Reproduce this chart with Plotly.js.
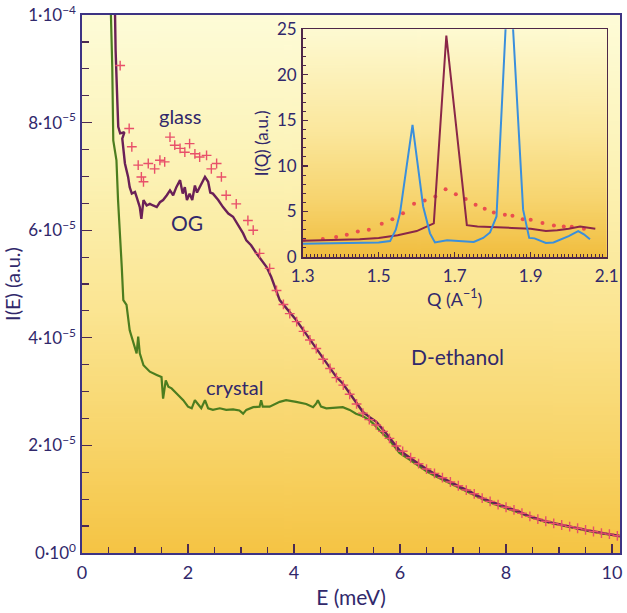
<!DOCTYPE html>
<html>
<head>
<meta charset="utf-8">
<script src="https://cdn.plot.ly/plotly-3.0.1.min.js"></script>
<style>html,body{margin:0;padding:0;background:#fff;}#chart{width:627px;height:613px;}</style>
</head>
<body>
<div id="chart"></div>
<script>
// ---------- Main panel data (E in meV, I(E) in units of 1e-5 a.u.) ----------
const crystalE = [
  0.53,0.546,0.571,0.59,0.65,0.68,0.72,0.75,0.78,0.84,
  0.90,0.97,1.03,1.06,1.09,1.16,1.28,1.41,1.50,1.53,
  1.58,1.63,1.69,1.78,1.85,1.91,2.00,2.07,2.13,2.19,
  2.25,2.32,2.38,2.47,2.60,2.72,2.85,2.97,3.04,3.10,
  3.23,3.35,3.38,3.41,3.54,3.73,3.85,4.04,4.23,4.36,
  4.42,4.45,4.51,4.61,4.80,4.92,5.05,5.17,5.30,5.42,
  5.49,5.61,5.80,5.99,6.20,6.37,6.50,6.68,6.85,6.99,
  7.15,7.31,7.45,7.62,7.80,7.93,8.10,8.25,8.40,8.56,
  8.70,8.88,9.05,9.19,9.35,9.50,9.65,9.82,10.0,10.15];
const crystalI = [
  10.6,9.99,9.03,7.67,7.30,6.56,5.94,5.32,4.70,4.61,
  4.14,3.89,3.71,4.02,3.71,3.49,3.37,3.31,3.27,2.87,
  3.21,3.09,3.06,2.97,2.90,2.84,2.72,2.69,2.84,2.77,
  2.69,2.84,2.69,2.66,2.69,2.66,2.67,2.65,2.59,2.66,
  2.71,2.72,2.84,2.72,2.72,2.81,2.84,2.81,2.77,2.71,
  2.78,2.84,2.72,2.69,2.71,2.71,2.66,2.59,2.54,2.47,
  2.41,2.28,2.10,1.86,1.72,1.60,1.52,1.42,1.34,1.26,
  1.19,1.12,1.05,0.97,0.90,0.86,0.80,0.75,0.69,0.64,
  0.59,0.55,0.51,0.48,0.45,0.42,0.39,0.36,0.34,0.32];

const ogE = [
  0.615,0.634,0.666,0.684,0.72,0.80,0.76,0.78,0.81,0.87,
  0.90,0.94,1.00,1.03,1.09,1.12,1.16,1.22,1.28,1.34,
  1.41,1.47,1.53,1.60,1.66,1.72,1.78,1.85,1.90,1.94,
  1.98,2.03,2.08,2.13,2.17,2.22,2.27,2.32,2.38,2.42,
  2.47,2.57,2.66,2.76,2.85,2.91,2.98,3.04,3.10,3.19,
  3.29,3.38,3.48,3.57,3.67,3.73,3.89,4.04,4.20,4.36,
  4.51,4.67,4.80,4.92,5.05,5.17,5.30,5.42,5.55,5.74,
  5.99,6.20,6.37,6.50,6.68,6.85,6.99,7.15,7.31,7.45,
  7.62,7.80,7.93,8.10,8.25,8.40,8.56,8.70,8.88,9.05,
  9.19,9.35,9.50,9.65,9.82,10.0,10.15];
const ogI = [
  10.5,9.34,8.41,7.92,7.80,7.82,7.70,7.45,7.24,6.99,
  6.80,6.68,6.71,6.62,6.43,6.21,6.56,6.46,6.49,6.46,
  6.43,6.52,6.56,6.65,6.74,6.65,6.80,6.93,6.68,6.80,
  6.56,6.68,6.56,6.83,6.70,6.80,6.90,6.99,6.90,6.70,
  6.68,6.56,6.43,6.31,6.25,6.15,6.06,5.94,5.81,5.72,
  5.57,5.44,5.32,5.13,4.88,4.70,4.51,4.33,4.11,3.89,
  3.68,3.46,3.27,3.15,2.97,2.78,2.62,2.53,2.44,2.22,
  1.91,1.76,1.64,1.56,1.46,1.37,1.30,1.22,1.15,1.07,
  0.99,0.92,0.88,0.82,0.77,0.70,0.65,0.60,0.56,0.52,
  0.49,0.46,0.43,0.40,0.37,0.34,0.31];

const glassE = [
  0.72,0.89,0.94,1.06,1.12,1.16,1.25,1.37,1.47,1.56,
  1.66,1.75,1.85,1.94,2.03,2.13,2.22,2.35,2.44,2.54,
  2.63,2.72,2.91,3.13,3.23,3.35,3.54,3.67,3.80,3.92,
  4.05,4.18,4.30,4.42,4.55,4.68,4.80,4.93,5.05,5.18,
  5.30,5.42,5.55,5.68,5.80,5.93,6.05,6.20,6.35,6.50,
  6.65,6.80,6.95,7.10,7.25,7.40,7.55,7.70,7.85,8.00,
  8.15,8.30,8.45,8.60,8.75,8.90,9.05,9.20,9.35,9.50,
  9.65,9.80,9.95,10.10];
const glassI = [
  9.06,7.89,7.55,7.21,6.99,6.90,7.24,7.14,7.30,7.27,
  7.73,7.58,7.52,7.45,7.61,7.42,7.36,7.39,7.14,7.24,
  6.99,6.65,6.49,6.18,6.00,5.57,5.29,4.88,4.62,4.45,
  4.30,4.12,3.96,3.80,3.60,3.43,3.26,3.12,2.95,2.77,
  2.60,2.48,2.38,2.26,2.13,1.99,1.89,1.77,1.66,1.56,
  1.48,1.40,1.32,1.25,1.17,1.10,1.02,0.96,0.90,0.85,
  0.80,0.74,0.68,0.63,0.59,0.55,0.52,0.49,0.46,0.43,
  0.40,0.37,0.35,0.32];

const yTickVals = [0, 2, 4, 6, 8, 10];
const yTickText = ['0·10<sup>0</sup>','2·10<sup>−5</sup>','4·10<sup>−5</sup>','6·10<sup>−5</sup>','8·10<sup>−5</sup>','1·10<sup>−4</sup>'];

// ---------- Inset data (Q in 1/A, I(Q) a.u.) ----------
const inGlassQ = [1.304,1.353,1.388,1.416,1.445,1.474,1.508,1.536,1.564,1.593,
                  1.621,1.649,1.676,1.703,1.729,1.755,1.779,1.803,1.832,1.852,
                  1.879,1.90,1.931,1.961,1.987,2.008,2.04];
const inGlassI = [1.9,1.97,2.19,2.45,2.81,2.99,3.65,4.16,4.82,5.85,
                  6.2,6.65,7.45,6.9,6.36,5.73,5.3,4.89,4.64,4.53,
                  4.16,4.09,3.73,3.47,3.36,3.32,3.1];
const inOgQ = [1.30,1.35,1.40,1.45,1.50,1.55,1.60,1.645,1.678,1.732,
               1.76,1.80,1.85,1.90,1.94,1.97,2.00,2.03,2.05,2.07];
const inOgI = [1.8,1.85,1.9,1.95,2.1,2.4,2.85,3.7,24.3,3.5,
               3.35,3.25,3.2,3.1,2.85,2.95,3.1,3.35,3.2,3.1];
const inCrystalQ = [1.30,1.40,1.50,1.53,1.545,1.556,1.57,1.589,1.60,1.617,
                    1.635,1.648,1.68,1.72,1.75,1.775,1.793,1.81,1.843,1.88,
                    1.896,1.91,1.94,1.96,1.98,2.00,2.025,2.04,2.056];
const inCrystalI = [1.45,1.5,1.6,1.75,3.0,4.8,9.0,14.5,11.0,5.55,
                    2.6,1.6,1.85,1.75,1.65,2.1,2.7,4.46,33,5.2,
                    2.1,2.05,1.55,1.6,1.95,2.3,2.85,2.5,1.95];
const inXTicks = [1.3, 1.5, 1.7, 1.9, 2.1];
const inYTicks = [0, 5, 10, 15, 20, 25];

// ---------- Styles ----------
const FONT = 'Lato, "Open Sans", sans-serif';
const TXT = '#31286b';
const FRAME = '#3d3383';
const TICK = '#4b2a52';
const INFRAME = '#4e2748';
const INSET_X = [0.4102, 0.9753];
const INSET_Y = [0.5496, 0.9734];

function gradient(stops) {
  const c = document.createElement('canvas');
  c.width = 4; c.height = 256;
  const g = c.getContext('2d');
  const lg = g.createLinearGradient(0, 0, 0, 256);
  stops.forEach(s => lg.addColorStop(s[0], s[1]));
  g.fillStyle = lg; g.fillRect(0, 0, 4, 256);
  return c.toDataURL();
}
const mainBg = gradient([[0,'#fefcd8'],[0.3,'#fcf2b4'],[0.55,'#fbe592'],[0.8,'#f8d468'],[1,'#f5c444']]);
const insetBg = gradient([[0,'#fefad2'],[0.45,'#fbe79c'],[0.75,'#f7d46e'],[1,'#f1bd3e']]);

const traces = [
  {x: crystalE, y: crystalI, mode: 'lines', line: {color: '#4c7d1f', width: 2.2}, xaxis: 'x', yaxis: 'y', hoverinfo: 'skip'},
  {x: ogE, y: ogI, mode: 'lines', line: {color: '#6a2057', width: 2.4}, xaxis: 'x', yaxis: 'y', hoverinfo: 'skip'},
  {x: glassE, y: glassI, mode: 'markers', marker: {symbol: 'cross-thin', size: 7, line: {color: '#e8506a', width: 1.4}}, xaxis: 'x', yaxis: 'y', hoverinfo: 'skip'},
  {x: inGlassQ, y: inGlassI, mode: 'markers', marker: {symbol: 'circle', size: 4, color: '#ea4e4e'}, xaxis: 'x2', yaxis: 'y2', hoverinfo: 'skip'},
  {x: inOgQ, y: inOgI, mode: 'lines', line: {color: '#8a2748', width: 2}, xaxis: 'x2', yaxis: 'y2', hoverinfo: 'skip'},
  {x: inCrystalQ, y: inCrystalI, mode: 'lines', line: {color: '#3a8fdc', width: 2}, xaxis: 'x2', yaxis: 'y2', hoverinfo: 'skip'}
];

const layout = {
  width: 627, height: 613,
  margin: {l: 82, r: 7, t: 15, b: 60, pad: 0},
  paper_bgcolor: '#ffffff',
  plot_bgcolor: 'rgba(0,0,0,0)',
  showlegend: false,
  font: {family: FONT, color: TXT},
  images: [
    {source: mainBg, xref: 'paper', yref: 'paper', x: 0, y: 1, sizex: 1, sizey: 1,
     xanchor: 'left', yanchor: 'top', sizing: 'stretch', layer: 'below'},
    {source: insetBg, xref: 'paper', yref: 'paper', x: INSET_X[0], y: INSET_Y[1],
     sizex: INSET_X[1] - INSET_X[0], sizey: INSET_Y[1] - INSET_Y[0],
     xanchor: 'left', yanchor: 'top', sizing: 'stretch', layer: 'below'}
  ],
  xaxis: {
    domain: [0, 1], range: [0, 10.15], anchor: 'y',
    tickmode: 'linear', tick0: 0, dtick: 2,
    ticks: 'inside', ticklen: 9, tickwidth: 1.3, tickcolor: TICK,
    minor: {tickmode: 'linear', tick0: 0, dtick: 0.5, ticks: 'inside', ticklen: 6, tickwidth: 1.2, tickcolor: TICK},
    showline: true, linecolor: FRAME, linewidth: 1.6, mirror: true,
    showgrid: false, zeroline: false,
    tickfont: {size: 18, color: TXT}, ticklabelstandoff: 3,
    title: {text: 'E (meV)', font: {size: 21, color: TXT}, standoff: 8}
  },
  yaxis: {
    domain: [0, 1], range: [0, 10], anchor: 'x',
    tickmode: 'array', tickvals: yTickVals, ticktext: yTickText,
    ticks: 'inside', ticklen: 10, tickwidth: 1.3, tickcolor: TICK,
    minor: {tickmode: 'linear', tick0: 0, dtick: 0.5, ticks: 'inside', ticklen: 7, tickwidth: 1.2, tickcolor: TICK},
    showline: true, linecolor: FRAME, linewidth: 1.6, mirror: true,
    showgrid: false, zeroline: false,
    tickfont: {size: 17, color: TXT}, ticklabelstandoff: 1,
    title: {text: 'I(E) (a.u.)', font: {size: 20, color: TXT}, standoff: 2}
  },
  xaxis2: {
    domain: INSET_X, range: [1.3, 2.1], anchor: 'y2',
    tickmode: 'array', tickvals: inXTicks,
    ticks: 'inside', ticklen: 5, tickwidth: 1.2, tickcolor: INFRAME,
    minor: {tickmode: 'linear', tick0: 1.3, dtick: 0.01, ticks: 'inside', ticklen: 3, tickwidth: 1, tickcolor: INFRAME},
    showline: true, linecolor: INFRAME, linewidth: 1.6, mirror: true,
    showgrid: false, zeroline: false,
    tickfont: {size: 17, color: TXT}, ticklabelstandoff: 3,
    title: {text: 'Q (A<sup>−1</sup>)', font: {size: 18, color: TXT}, standoff: 2}
  },
  yaxis2: {
    domain: INSET_Y, range: [-0.03, 25], anchor: 'x2',
    tickmode: 'array', tickvals: inYTicks,
    ticks: 'inside', ticklen: 5, tickwidth: 1.2, tickcolor: INFRAME,
    minor: {tickmode: 'linear', tick0: 0, dtick: 1, ticks: 'inside', ticklen: 3, tickwidth: 1, tickcolor: INFRAME},
    showline: true, linecolor: INFRAME, linewidth: 1.6, mirror: true,
    showgrid: false, zeroline: false,
    tickfont: {size: 17, color: TXT}, ticklabelstandoff: 1,
    title: {text: 'I(Q) (a.u.)', font: {size: 17, color: TXT}, standoff: 4}
  },
  annotations: [
    {text: 'glass', x: 1.85, y: 8.13, xref: 'x', yref: 'y', showarrow: false, font: {size: 20, color: TXT}},
    {text: 'OG', x: 1.98, y: 6.15, xref: 'x', yref: 'y', showarrow: false, font: {size: 21, color: TXT}},
    {text: 'crystal', x: 2.88, y: 3.08, xref: 'x', yref: 'y', showarrow: false, font: {size: 20, color: TXT}},
    {text: 'D-ethanol', x: 7.08, y: 3.66, xref: 'x', yref: 'y', showarrow: false, font: {size: 21, color: TXT}}
  ]
};

Plotly.newPlot('chart', traces, layout, {displayModeBar: false, staticPlot: true});
</script>
</body>
</html>
